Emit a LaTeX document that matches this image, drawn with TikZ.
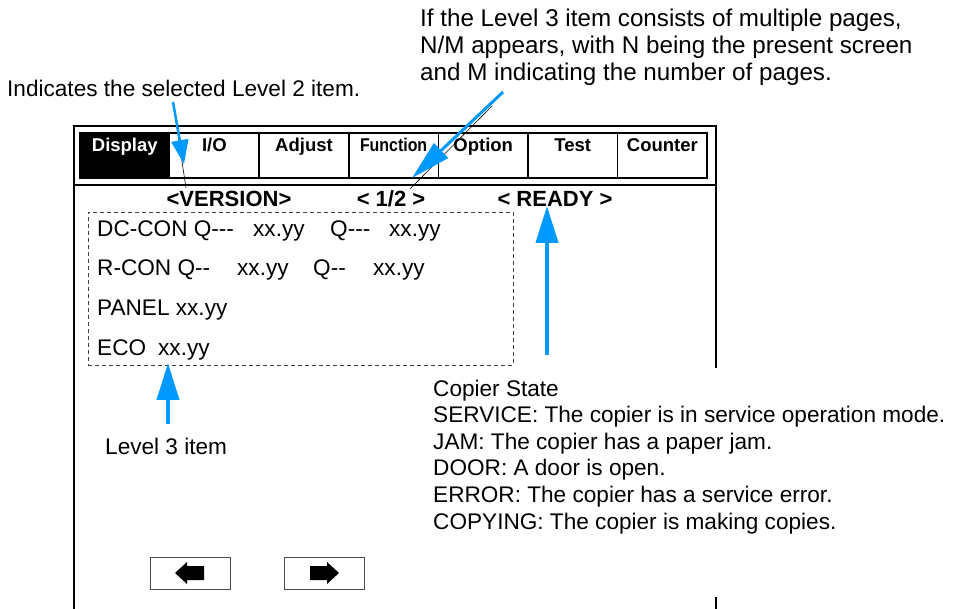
\documentclass[tikz,border=0pt]{standalone}
\usepackage{fontspec}
\setmainfont{Liberation Sans}
\usepackage{graphicx}
\usetikzlibrary{arrows.meta, positioning}
\definecolor{pointerblue}{HTML}{0099FF}

\begin{document}
\begin{tikzpicture}[x=1pt, y=-1pt, font=\fontsize{22.6}{27}\selectfont,
    tabcell/.style={rectangle, draw=black, line width=1.6pt, outer sep=0pt, inner sep=0pt,
      minimum width=89.6pt, text height=18.5pt, text depth=26.5pt,
      font=\fontsize{18.5}{20}\selectfont\bfseries},
    hdr/.style={anchor=base, inner sep=0pt, font=\fontsize{22}{26}\selectfont\bfseries},
    rowtxt/.style={anchor=base west, inner sep=0pt},
    note/.style={anchor=base west, inner sep=0pt, align=left},
    frameline/.style={line width=1.5pt, black},
    dashbox/.style={draw=black!75, line width=0.9pt, dash pattern=on 4pt off 3pt},
    pointer/.style={-{Triangle[length=37pt, width=22pt]}, line width=4pt, pointerblue},
    leader/.style={line width=0.6pt, black},
    btn/.style={rectangle, draw=black!70, line width=1pt, minimum width=80pt, minimum height=32pt}]

    \useasboundingbox (0,0) rectangle (953,609);

    % Screen frame and header rule
    \draw[frameline] (74,609) |- (716,126) -- (716,368);
    \draw[frameline] (716,597) -- (716,609);
    \draw[frameline] (74,185) -- (716,185);

    % Level 2 tabs
    \node (tdisp) [tabcell, fill=black, text=white, anchor=north west] at (80,133) {Display};
    \node (tio) [tabcell, right=0pt of tdisp] {I/O};
    \node (tadj) [tabcell, right=0pt of tio] {Adjust};
    \node (tfunc) [tabcell, right=0pt of tadj] {\scalebox{0.86}[1]{Function}};
    \node (topt) [tabcell, right=0pt of tfunc] {Option};
    \node (ttest) [tabcell, right=0pt of topt] {Test};
    \node (tcount) [tabcell, right=0pt of ttest] {Counter};

    % Header line
    \node (hver) [hdr] at (229,207) {<VERSION>};
    \node (hpage) [hdr] at (391,207) {< 1/2 >};
    \node (hstate) [hdr] at (555,207) {< READY >};

    % Level 3 items
    \node (items) [dashbox, anchor=north west, minimum width=425pt, minimum height=153pt] at (88,212) {};
    \node (row1) [rowtxt] at (97,237)
      {\makebox[156pt][l]{DC-CON Q-{}-{}-}\makebox[77pt][l]{xx.yy}\makebox[59pt][l]{Q-{}-{}-}xx.yy};
    \node (row2) [rowtxt] at (97,276)
      {\makebox[140pt][l]{R-CON Q-{}-}\makebox[76pt][l]{xx.yy}\makebox[60pt][l]{Q-{}-}xx.yy};
    \node (row3) [rowtxt] at (97,316) {PANEL xx.yy};
    \node (row4) [rowtxt] at (97,356) {\makebox[61pt][l]{ECO}xx.yy};

    % Page buttons
    \node (bprev) [btn] at (190,573) {};
    \node (bnext) [btn] at (324,573) {};
    \fill[shift={(bprev.center)}] (-15,0) -- (-3,-11) -- (-3,-7) -- (14,-7) -- (14,7) -- (-3,7) -- (-3,11) -- cycle;
    \fill[shift={(bnext.center)}] (15,0) -- (3,-11) -- (3,-7) -- (-14,-7) -- (-14,7) -- (3,7) -- (3,11) -- cycle;

    % Notes (base = last line)
    \node (nlvl2) [note] at (7,97) {Indicates the selected Level 2 item.};
    \node (npage) [note, font=\fontsize{24.2}{27}\selectfont] at (420,81)
      {If the Level 3 item consists of multiple pages,\\
      N/M appears, with N being the present screen\\and M indicating the number of pages.};
    \node (nlvl3) [note] at (105,454) {Level 3 item};
    \node (nstate) [note, font=\fontsize{22.6}{26.6}\selectfont] at (433,529) {Copier State\\
      SERVICE: The copier is in service operation mode.\\
      JAM: The copier has a paper jam.\\
      DOOR: A door is open.\\
      ERROR: The copier has a service error.\\
      COPYING: The copier is making copies.};

    % Pointer ends
    \coordinate (lvl2tail) at (173,102);
    \coordinate (lvl2tip) at (184,164);
    \coordinate (lvl2end) at (186,188);
    \coordinate (pagetail) at (503,92);
    \coordinate (pagetip) at (412,178);
    \coordinate (pageleadtail) at (492,106);
    \coordinate (pageend) at (410,189);
    \coordinate (statetail) at (547,355);
    \coordinate (statetip) at (547,206);
    \coordinate (lvl3tail) at (168,424);
    \coordinate (lvl3tip) at (168,363);

    % Pointers
    \draw[leader] (lvl2tail) -- (lvl2end);
    \draw[leader] (pageleadtail) -- (pageend);
    \draw[pointer, line width=2.5pt, -{Triangle[length=24pt, width=17pt]}] (lvl2tail) -- (lvl2tip);
    \draw[pointer, line width=3pt, -{Triangle[length=40pt, width=20pt]}] (pagetail) -- (pagetip);
    \draw[pointer] (statetail) -- (statetip);
    \draw[pointer] (lvl3tail) -- (lvl3tip);
\end{tikzpicture}
\end{document}
